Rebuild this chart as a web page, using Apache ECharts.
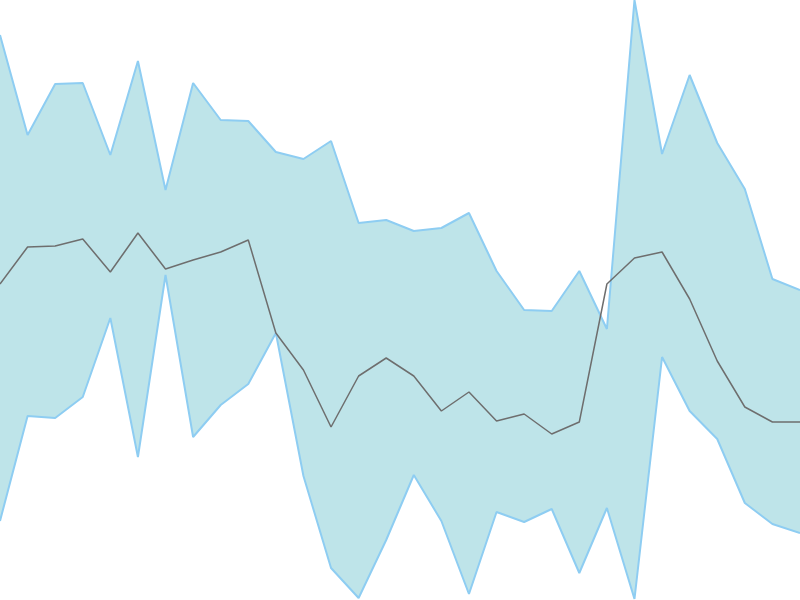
<!DOCTYPE html>
<html>
<head>
    <meta charset="utf-8">
    <title>Band chart</title>
    <script type="text/javascript" src="https://cdn.jsdelivr.net/npm/echarts@6/dist/echarts.min.js"></script>
    <style>
        html, body { margin: 0; padding: 0; background: #fff; }
    </style>
</head>
<body>
<div id="main" style="width: 800px;height:600px;"></div>

<script type="text/javascript">
    // values (screen height 600 = top)
    var categories = [];
    for (var i = 0; i < 30; i++) { categories.push(String(i)); }

    var upper = [565, 465, 516, 517, 445, 539, 410, 517, 480, 479,
                 448, 441, 459, 377, 380, 369, 372, 387, 329, 290,
                 289, 329, 271, 600, 446, 525, 457, 411, 321, 310];
    var lower = [79, 184, 182, 203, 282, 143, 325, 163, 195, 216,
                 267, 124, 32, 2, 60, 125, 79, 6, 88, 78,
                 91, 27, 92, 1, 243, 189, 161, 97, 76, 67];
    var middle = [316, 353, 354, 361, 328, 367, 331, 340, 348, 360,
                  267, 230, 173, 224, 242, 224, 189, 208, 179, 186,
                  166, 178, 316, 342, 348, 301, 239, 193, 178, 178];

    // band height, stacked on top of the lower edge
    var spread = upper.map(function (v, i) { return v - lower[i]; });

    var chart = echarts.init(document.getElementById('main'));
    var option = {
        animation: false,
        grid: { left: 0, right: 0, top: 0, bottom: 0 },
        xAxis: {
            type: 'category',
            data: categories,
            boundaryGap: false,
            show: false
        },
        yAxis: {
            type: 'value',
            min: 0,
            max: 600,
            show: false
        },
        series: [
            {
                name: 'lower',
                type: 'line',
                stack: 'band',
                data: lower,
                symbol: 'none',
                lineStyle: { color: '#8ecdf2', width: 2 }
            },
            {
                name: 'upper',
                type: 'line',
                stack: 'band',
                data: spread,
                symbol: 'none',
                lineStyle: { color: '#8ecdf2', width: 2 },
                areaStyle: { color: '#bee4e9', opacity: 1 }
            },
            {
                name: 'middle',
                type: 'line',
                data: middle,
                symbol: 'none',
                lineStyle: { color: '#6e6e6e', width: 1.5 }
            }
        ]
    };
    chart.setOption(option);
</script>
</body>
</html>
